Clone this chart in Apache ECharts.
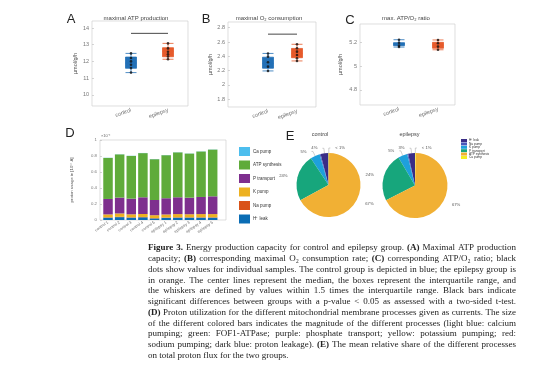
<!DOCTYPE html>
<html><head><meta charset="utf-8">
<script src="https://cdn.jsdelivr.net/npm/echarts@6/dist/echarts.min.js"></script>
<style>html,body{margin:0;padding:0;background:#fff}#c{width:554px;height:389px}</style>
</head><body><div id="c"></div><script>
// ---------- data ----------
const groups = ['control', 'epilepsy'];
// A: maximal ATP production (µmol/g/h)
const atpCtrlPts = [12.48, 12.2, 12.0, 11.8, 11.6, 11.33];
const atpEpiPts = [13.08, 12.78, 12.58, 12.43, 12.29, 12.13];
const atpCtrlBox = [11.33, 11.59, 11.9, 12.26, 12.48];
const atpEpiBox = [12.13, 12.28, 12.6, 12.82, 13.08];
const atpSig = 13.68;
const ticksA = [10, 11, 12, 13, 14];
// B: maximal O2 consumption
const o2CtrlPts = [2.44, 2.395, 2.317, 2.255, 2.195];
const o2EpiPts = [2.568, 2.512, 2.465, 2.418, 2.372, 2.335];
const o2CtrlBox = [2.195, 2.233, 2.3, 2.387, 2.44];
const o2EpiBox = [2.335, 2.38, 2.44, 2.51, 2.568];
const o2Sig = 2.71;
const ticksB = [1.8, 2, 2.2, 2.4, 2.6, 2.8];
// C: max ATP/O2 ratio
const ratioCtrlPts = [5.225, 5.2, 5.175, 5.163];
const ratioEpiPts = [5.223, 5.195, 5.167, 5.14];
const ratioCtrlBox = [5.163, 5.175, 5.19, 5.2, 5.225];
const ratioEpiBox = [5.14, 5.153, 5.18, 5.203, 5.223];
const ticksC = [4.8, 5, 5.2];
// D: proton usage (x10^-4 A)
const barCategories = ['control 1','control 2','control 3','control 4','control 5','epilepsy 1','epilepsy 2','epilepsy 3','epilepsy 4','epilepsy 5'];
const hLeak = [0.030, 0.036, 0.030, 0.034, 0.020, 0.028, 0.030, 0.030, 0.030, 0.030];
const naPump = [0.004, 0.004, 0.004, 0.004, 0.004, 0.004, 0.004, 0.004, 0.004, 0.004];
const kPump = [0.036, 0.042, 0.037, 0.037, 0.036, 0.037, 0.040, 0.038, 0.040, 0.040];
const pTransport = [0.193, 0.198, 0.196, 0.209, 0.190, 0.203, 0.210, 0.207, 0.214, 0.222];
const atpSynthesis = [0.513, 0.540, 0.534, 0.552, 0.510, 0.538, 0.561, 0.551, 0.568, 0.584];
const caPump = [0.002, 0.002, 0.002, 0.002, 0.002, 0.002, 0.002, 0.002, 0.002, 0.002];
const ticksD = [0, 0.2, 0.4, 0.6, 0.8, 1];
// E: mean relative share (%)
const pieNames = ['H⁺ leak', 'Na pump', 'K pump', 'P transport', 'ATP synthesis', 'Ca pump'];
const pieControl = [4.0, 0.5, 4.8, 23.6, 66.8, 0.3];
const pieEpilepsy = [3.4, 0.5, 4.6, 24.0, 67.2, 0.3];

const captionLines = [
 'Figure 3. Energy production capacity for control and epilepsy group. (A) Maximal ATP production',
 'capacity; (B) corresponding maximal O₂ consumption rate; (C) corresponding ATP/O₂ ratio; black',
 'dots show values for individual samples. The control group is depicted in blue; the epilepsy group is',
 'in orange. The center lines represent the median, the boxes represent the interquartile range, and',
 'the whiskers are defined by values within 1.5 times the interquartile range. Black bars indicate',
 'significant differences between groups with a p-value < 0.05 as assessed with a two-sided t-test.',
 '(D) Proton utilization for the different mitochondrial membrane processes given as currents. The size',
 'of the different colored bars indicates the magnitude of the different processes (light blue: calcium',
 'pumping; green: FOF1-ATPase; purple: phosphate transport; yellow: potassium pumping; red:',
 'sodium pumping; dark blue: proton leakage). (E) The mean relative share of the different processes',
 'on total proton flux for the two groups.'
];
const boldTokens = new Set(['Figure', '3.', '(A)', '(B)', '(C)', '(D)', '(E)']);

// ---------- styling ----------
const SANS = 'Liberation Sans';
const BLUE = '#2270b6', ORANGE = '#e65a2b';
const barColors = {'Ca pump':'#4DBEEE','ATP synthesis':'#5fab3a','P transport':'#7E2F8E','K pump':'#EDB120','Na pump':'#D95319','H⁺ leak':'#0a6db5'};
const pieColors = ['#3a2d86', '#4a58bb', '#1ea0dc', '#17a67c', '#f1b034', '#f3ee22'];

const chart = echarts.init(document.getElementById('c'), null, {renderer: 'canvas'});

function frameY(gi, min, max, ticks, name, nameGap) {
  return {gridIndex: gi, type: 'value', min, max, splitLine: {show: false},
    axisLine: {show: false},
    axisTick: {show: true, inside: true, length: 2, lineStyle: {color: '#bbb', width: 0.6}, customValues: ticks},
    axisLabel: {customValues: ticks, fontSize: 5.5, color: '#777', margin: 3, fontFamily: SANS},
    name, nameLocation: 'middle', nameRotate: 90, nameGap,
    nameTextStyle: {fontSize: 5.5, color: '#555', fontFamily: SANS}};
}
function hiddenX(gi) { return {gridIndex: gi, type: 'value', min: 0, max: 1, show: false}; }
function hiddenY(gi, min, max) { return {gridIndex: gi, type: 'value', min, max, show: false}; }
function catX(gi, data, rotate, fs, margin) {
  return {gridIndex: gi, type: 'category', data, axisLine: {show: false}, axisTick: {show: false},
    axisLabel: {rotate, fontSize: fs, color: '#666', margin, interval: 0, fontFamily: SANS}};
}
const frameStyle = {show: true, borderColor: '#d0d0d0', borderWidth: 0.7, backgroundColor: 'rgba(0,0,0,0)'};

function boxSeries(ai, ctrl, epi) {
  return {type: 'boxplot', xAxisIndex: ai, yAxisIndex: ai, boxWidth: [11, 11],
    data: [
      {value: ctrl, itemStyle: {color: BLUE, borderColor: BLUE, borderWidth: 0.8}},
      {value: epi, itemStyle: {color: ORANGE, borderColor: ORANGE, borderWidth: 0.8}}
    ], silent: true};
}
function ptsSeries(ai, ctrl, epi) {
  return {type: 'scatter', xAxisIndex: ai, yAxisIndex: ai, symbolSize: 2.6, itemStyle: {color: '#111'},
    data: ctrl.map(v => [groups[0], v]).concat(epi.map(v => [groups[1], v])), z: 5};
}
function sigSeries(ai, v) {
  return {type: 'line', xAxisIndex: ai, yAxisIndex: ai, symbol: 'none', lineStyle: {color: '#333', width: 0.9},
    data: [[groups[0], v], [groups[1], v]]};
}

const barOrder = [['H⁺ leak', hLeak], ['Na pump', naPump], ['K pump', kPump], ['P transport', pTransport], ['ATP synthesis', atpSynthesis], ['Ca pump', caPump]];
const barSeries = barOrder.map(([n, arr]) => ({
  type: 'bar', name: n, stack: 'p', xAxisIndex: 7, yAxisIndex: 7, barWidth: 9.5,
  itemStyle: {color: barColors[n]}, data: arr
}));

function pieSeries(center, r, vals) {
  return {type: 'pie', center, radius: r, startAngle: 90, clockwise: false, avoidLabelOverlap: false,
    label: {fontSize: 4.2, color: '#555', fontFamily: SANS,
      formatter: p => p.percent < 1 ? '< 1%' : Math.round(p.percent) + '%'},
    labelLine: {length: 5, length2: 1.5, lineStyle: {width: 0.4, color: '#888'}},
    data: vals.map((v, i) => ({name: pieNames[i], value: v, itemStyle: {color: pieColors[i]},
      labelLine: i === 3 || i === 4 ? {show: false, length: 4, length2: 1} : undefined}))};
}

// ---------- graphics: letters, titles, caption ----------
const graphics = [];
function txt(x, y, t, fs, opts) {
  opts = opts || {};
  graphics.push({type: 'text', x, y, rotation: opts.rot || 0, style: {text: t, fontSize: fs,
    fontFamily: opts.family || SANS, fontWeight: opts.bold ? 'bold' : 'normal', fill: opts.fill || '#222',
    textAlign: opts.align || 'center', align: opts.align || 'center',
    textVerticalAlign: 'middle', verticalAlign: 'middle'}});
}
txt(71, 19, 'A', 13); txt(206, 19, 'B', 13); txt(350, 20, 'C', 13); txt(70, 133, 'D', 13); txt(290, 136, 'E', 13);
txt(136, 18, 'maximal ATP production', 6, {fill: '#444'});
txt(269, 18, 'maximal O₂ consumption', 6, {fill: '#444'});
txt(406, 18, 'max. ATP/O₂ ratio', 6, {fill: '#444'});
txt(320, 134, 'control', 5.5, {fill: '#444'});
txt(409.5, 134, 'epilepsy', 5.5, {fill: '#444'});
txt(101, 135.5, '×10⁻⁴', 4, {fill: '#666', align: 'left'});
txt(72, 180, 'proton usage in [10⁻⁴ A]', 4.3, {fill: '#555', rot: Math.PI / 2});

const CAP_X = 148, CAP_W = 368, CAP_Y = 248, CAP_LH = 10.75, CAP_FONT = 'Liberation Serif';
const mctx = document.createElement('canvas').getContext('2d');
function mw(t, bold, fs) { mctx.font = (bold ? 'bold ' : '') + fs + 'px "' + CAP_FONT + '"'; return mctx.measureText(t).width; }
const capBolds = captionLines.map((line, i) => line.split(' ').map(t => boldTokens.has(t) && !(t === '3.' && i > 0)));
// font size chosen so the tightest justified line has normal word spacing
let natMax = 0;
captionLines.forEach((line, i) => {
  if (i === captionLines.length - 1) return;
  const words = line.split(' ');
  const nat = words.reduce((a, t, j) => a + mw(t, capBolds[i][j], 10), 0) + (words.length - 1) * mw(' ', false, 10);
  natMax = Math.max(natMax, nat);
});
const CAP_FS = Math.min(9, 10 * CAP_W / natMax * 0.995);
captionLines.forEach((line, i) => {
  const words = line.split(' ');
  const ws = words.map((t, j) => mw(t, capBolds[i][j], CAP_FS));
  const total = ws.reduce((a, b) => a + b, 0);
  const last = i === captionLines.length - 1;
  const gap = last ? mw(' ', false, CAP_FS) : Math.max(0.5, (CAP_W - total) / (words.length - 1));
  let x = CAP_X;
  words.forEach((t, j) => {
    graphics.push({type: 'text', x, y: CAP_Y + i * CAP_LH, style: {text: t, fontSize: CAP_FS, fontFamily: CAP_FONT,
      fontWeight: capBolds[i][j] ? 'bold' : 'normal', fill: '#222', textAlign: 'left', align: 'left',
      textVerticalAlign: 'middle', verticalAlign: 'middle'}});
    x += ws[j] + gap;
  });
});

const option = {
  animation: false,
  backgroundColor: '#fff',
  grid: [
    Object.assign({left: 92, top: 21, width: 96, height: 85}, frameStyle),      // 0 A frame
    {left: 112.5, top: 21, width: 74, height: 85, show: false},                // 1 A data
    Object.assign({left: 228, top: 22, width: 88, height: 85}, frameStyle),     // 2 B frame
    {left: 253.5, top: 22, width: 58, height: 85, show: false},                // 3 B data
    Object.assign({left: 360, top: 24, width: 95, height: 81}, frameStyle),     // 4 C frame
    {left: 379.5, top: 24, width: 78, height: 81, show: false},                // 5 C data
    Object.assign({left: 100, top: 140, width: 126, height: 80}, frameStyle),   // 6 D frame
    {left: 102.2, top: 140, width: 116.3, height: 80, show: false}             // 7 D data
  ],
  xAxis: [
    hiddenX(0), catX(1, groups, 20, 5.5, 4),
    hiddenX(2), catX(3, groups, 20, 5.5, 4),
    hiddenX(4), catX(5, groups, 20, 5.5, 4),
    hiddenX(6), catX(7, barCategories, 35, 4, 2)
  ],
  yAxis: [
    frameY(0, 9.33, 14.42, ticksA, 'µmol/g/h', 14), hiddenY(1, 9.33, 14.42),
    frameY(2, 1.69, 2.88, ticksB, 'µmol/g/h', 14), hiddenY(3, 1.69, 2.88),
    frameY(4, 4.673, 5.358, ticksC, 'µmol/g/h', 17), hiddenY(5, 4.673, 5.358),
    Object.assign(frameY(6, 0, 1, ticksD, '', 10), {axisLabel: {customValues: ticksD, fontSize: 4.3, color: '#777', margin: 3, fontFamily: SANS}}),
    hiddenY(7, 0, 1)
  ],
  legend: [
    {orient: 'vertical', left: 234, top: 142, itemWidth: 11, itemHeight: 9, itemGap: 4.5, selectedMode: false,
      icon: 'rect', textStyle: {fontSize: 4.5, color: '#333', fontFamily: SANS, padding: [0, 0, 0, -2]},
      data: ['Ca pump', 'ATP synthesis', 'P transport', 'K pump', 'Na pump', 'H⁺ leak']},
    {orient: 'vertical', left: 456, top: 134, itemWidth: 6, itemHeight: 3, itemGap: 0.4, selectedMode: false,
      icon: 'rect', textStyle: {fontSize: 3.2, color: '#333', fontFamily: SANS, padding: [0, 0, 0, -3]},
      data: pieNames.map((n, i) => ({name: n, itemStyle: {color: pieColors[i]}}))}
  ],
  series: [
    boxSeries(1, atpCtrlBox, atpEpiBox), ptsSeries(1, atpCtrlPts, atpEpiPts), sigSeries(1, atpSig),
    boxSeries(3, o2CtrlBox, o2EpiBox), ptsSeries(3, o2CtrlPts, o2EpiPts), sigSeries(3, o2Sig),
    boxSeries(5, ratioCtrlBox, ratioEpiBox), ptsSeries(5, ratioCtrlPts, ratioEpiPts),
    ...barSeries,
    pieSeries([328.5, 185], 32, pieControl),
    pieSeries([415, 185.5], 32.5, pieEpilepsy)
  ],
  graphic: graphics
};
chart.setOption(option);
</script></body></html>
